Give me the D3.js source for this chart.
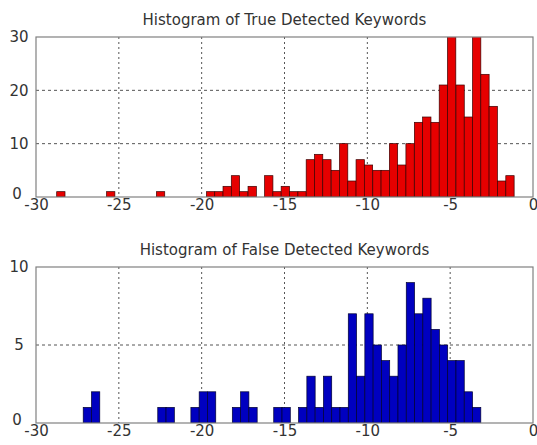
<!DOCTYPE html>
<html>
<head>
<meta charset="utf-8">
<script src="https://cdn.jsdelivr.net/npm/d3@7"></script>
<style>
  body{margin:0;background:#fff;}
  svg{display:block;}
  .title{font-family:"DejaVu Sans",sans-serif;font-size:15px;fill:#333;}
  .tick-label{font-family:"DejaVu Sans",sans-serif;font-size:15px;fill:#333;}
</style>
</head>
<body>
<svg id="chart" width="537" height="445"></svg>
<script>
/* two matlab style histograms of keyword scores */
//bin centres (top bins are ~0.502 wide, bottom ones 0.5)
const trueCenters = [-28.50,-28.00,-27.50,-26.99,-26.49,-25.99,-25.49,-24.99,-24.48,-23.98,
  -23.48,-22.98,-22.48,-21.97,-21.47,-20.97,-20.47,-19.97,-19.46,-18.96,
  -18.46,-17.96,-17.46,-16.95,-16.45,-15.95,-15.45,-14.95,-14.44,-13.94,
  -13.44,-12.94,-12.44,-11.93,-11.43,-10.93,-10.43,-9.93,-9.42,-8.92,
  -8.42,-7.92,-7.42,-6.91,-6.41,-5.91,-5.41,-4.91,-4.40,-3.90,
  -3.40,-2.90,-2.40,-1.89,-1.39];
const trueCounts = [1,0,0,0,0,0,1,0,0,0,
  0,0,1,0,0,0,0,0,1,1,
  2,4,1,2,0,4,1,2,1,1,
  7,8,7,5,10,3,7,6,5,5,
  10,6,10,14,15,14,21,33,21,15,
  31,23,17,3,4];
const falseCenters = [-26.9,-26.4,-25.9,-25.4,-24.9,-24.4,-23.9,-23.4,-22.9,-22.4,
  -21.9,-21.4,-20.9,-20.4,-19.9,-19.4,-18.9,-18.4,-17.9,-17.4,
  -16.9,-16.4,-15.9,-15.4,-14.9,-14.4,-13.9,-13.4,-12.9,-12.4,
  -11.9,-11.4,-10.9,-10.4,-9.9,-9.4,-8.9,-8.4,-7.9,-7.4,
  -6.9,-6.4,-5.9,-5.4,-4.9,-4.4,-3.9,-3.4];
const falseCounts = [1,2,0,0,0,0,0,0,0,1,
  1,0,0,1,2,2,0,0,1,2,
  1,0,0,1,1,0,1,3,1,3,
  1,1,7,3,7,5,4,3,5,9,
  7,8,6,5,4,4,2,1];
//tick labels
const xTicks = [-30,-25,-20,-15,-10,-5,0];
const trueYTicks = [0,10,20,30];
const falseYTicks = [0,5,10];
const titles = ["Histogram of True Detected Keywords","Histogram of False Detected Keywords"];

const svg = d3.select("#chart");

function drawHistogram(args){
  //args : centers, counts, binWidth, yMax, yTicks, top, bottom, color, title
  const left = 36, right = 533;
  const x = d3.scaleLinear().domain([-30,0]).range([left,right]);
  const y = d3.scaleLinear().domain([0,args.yMax]).range([args.bottom,args.top]);
  const g = svg.append("g");
  const clipId = "clip"+args.idx;

  g.append("clipPath").attr("id",clipId)
    .append("rect")
    .attr("x",left).attr("y",args.top)
    .attr("width",right-left).attr("height",args.bottom-args.top);

  //dotted grid
  const grid = g.append("g").attr("class","grid");
  grid.selectAll("line.gx")
    .data(xTicks.filter(d => d>-30 && d<0))
    .enter().append("line")
    .attr("class","gx")
    .attr("x1",d => x(d)).attr("x2",d => x(d))
    .attr("y1",args.top).attr("y2",args.bottom)
    .attr("stroke","#555").attr("stroke-width",1)
    .attr("stroke-dasharray","2,3");
  grid.selectAll("line.gy")
    .data(args.yTicks.filter(d => d>0 && d<args.yMax))
    .enter().append("line")
    .attr("class","gy")
    .attr("x1",left).attr("x2",right)
    .attr("y1",d => y(d)).attr("y2",d => y(d))
    .attr("stroke","#555").attr("stroke-width",1)
    .attr("stroke-dasharray","3,3");

  //bars
  g.append("g")
    .attr("clip-path","url(#"+clipId+")")
    .selectAll("rect")
    .data(args.counts.map((c,i) => ({c:c,m:args.centers[i]})).filter(d => d.c>0))
    .enter().append("rect")
    .attr("x",d => x(d.m-args.binWidth/2))
    .attr("width",d => x(d.m+args.binWidth/2)-x(d.m-args.binWidth/2))
    .attr("y",d => y(d.c))
    .attr("height",d => y(0)-y(d.c))
    .attr("fill",args.color)
    .attr("stroke",args.edge)
    .attr("stroke-width",0.7);

  //box
  g.append("rect")
    .attr("x",left).attr("y",args.top)
    .attr("width",right-left).attr("height",args.bottom-args.top)
    .attr("fill","none").attr("stroke","#808080").attr("stroke-width",1.2);

  //axes, only used for the labels, the box is drawn above
  //plain hyphen for the minus sign like the original
  const xAxis = d3.axisBottom(x).tickValues(xTicks).tickSize(0).tickPadding(2).tickFormat(d => String(d));
  const yAxis = d3.axisLeft(y).tickValues(args.yTicks).tickSize(0).tickPadding(4).tickFormat(d => String(d));
  const gx = g.append("g").attr("transform","translate(0,"+args.bottom+")").call(xAxis);
  const gy = g.append("g").attr("transform","translate("+left+",0)").call(yAxis);
  [gx,gy].forEach(a => {
    a.select(".domain").remove();
    a.attr("font-size",null).attr("font-family",null);
    a.selectAll("text").attr("class","tick-label");
  });
  //y labels are centred in the left margin
  gy.attr("text-anchor","middle");
  gy.selectAll(".tick text").attr("x",-17);
  //the zero sits a bit above the corner so it does not run into the x label
  gy.selectAll(".tick text").filter(d => d===0).attr("dy","0.1em").attr("x",-19);

  //title
  g.append("text")
    .attr("class","title")
    .attr("x",(left+right)/2)
    .attr("y",args.top-12)
    .attr("text-anchor","middle")
    .text(args.title);
}

drawHistogram({
  idx:0, centers:trueCenters, counts:trueCounts, binWidth:0.502,
  yMax:30, yTicks:trueYTicks, top:37, bottom:197,
  color:"#e60000", edge:"#3a0000", title:titles[0]
});
drawHistogram({
  idx:1, centers:falseCenters, counts:falseCounts, binWidth:0.5,
  yMax:10, yTicks:falseYTicks, top:267, bottom:423,
  color:"#0000c0", edge:"#000030", title:titles[1]
});
</script>
</body>
</html>
